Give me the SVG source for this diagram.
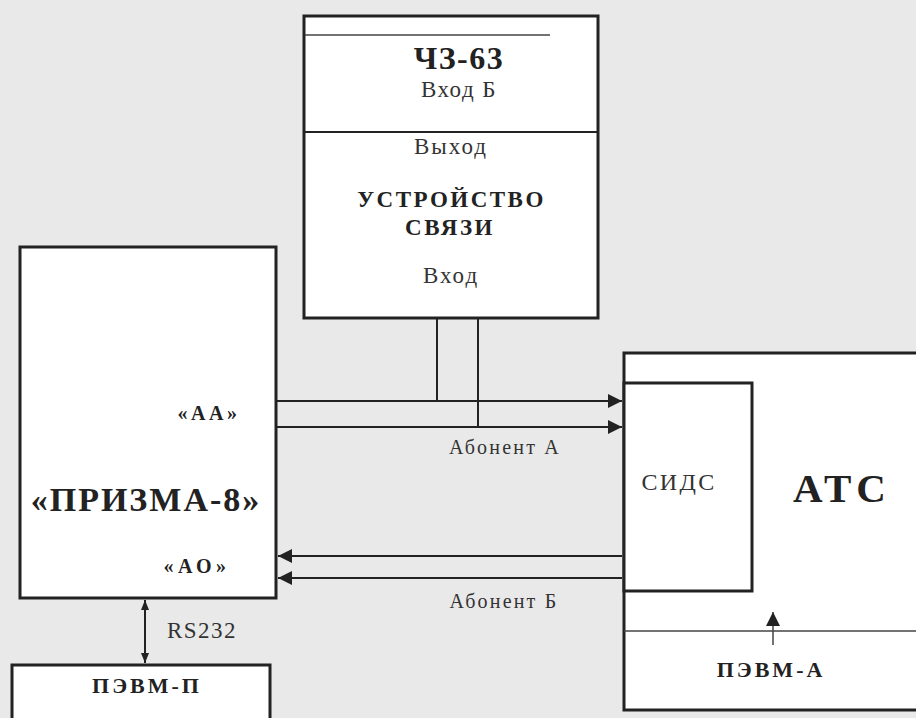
<svg xmlns="http://www.w3.org/2000/svg" width="916" height="718" viewBox="0 0 916 718">
<style>
.bg{fill:#e9e9e9}
.box{fill:#ffffff;stroke:#222;stroke-width:3}
.ln{stroke:#222;stroke-width:2;fill:none}
.thin{stroke:#444;stroke-width:1.5;fill:none}
text{font-family:"Liberation Serif","Times New Roman",serif;fill:#333;text-anchor:middle}
.b{font-weight:bold;fill:#222}
.s{font-size:23px;letter-spacing:2px}
</style>
<defs>
<marker id="ah" viewBox="0 0 10 10" refX="10" refY="5" markerWidth="11" markerHeight="10" markerUnits="userSpaceOnUse" orient="auto-start-reverse">
<path d="M0,1 L10,5 L0,9 z" fill="#222"/>
</marker>
<marker id="ahL" viewBox="0 0 10 10" refX="10" refY="5" markerWidth="17" markerHeight="14" markerUnits="userSpaceOnUse" orient="auto-start-reverse">
<path d="M0,0 L10,5 L0,10 z" fill="#222"/>
</marker>
<marker id="ahU" viewBox="0 0 10 10" refX="10" refY="5" markerWidth="14" markerHeight="20" markerUnits="userSpaceOnUse" orient="auto-start-reverse">
<path d="M0,0 L10,5 L0,10 z" fill="#222"/>
</marker>
</defs>
<rect class="bg" x="0" y="0" width="916" height="718"/>

<g id="ustroystvo">
<rect class="box" x="304" y="16" width="294" height="302"/>
<line class="thin" x1="305" y1="35" x2="550" y2="35" stroke="#777"/>
<line class="ln" x1="304" y1="132" x2="598" y2="132" stroke-width="3"/>
<text class="b" x="459" y="69" font-size="32" letter-spacing="1.5">ЧЗ-63</text>
<text x="459" y="97" font-size="23" letter-spacing="1.5">Вход Б</text>
<text class="s" x="451" y="154">Выход</text>
<text class="b" x="451.5" y="207" font-size="23" letter-spacing="2.5">УСТРОЙСТВО</text>
<text class="b" x="450" y="235" font-size="23" letter-spacing="2.5">СВЯЗИ</text>
<text class="s" x="451" y="283">Вход</text>
</g>

<g id="prizma">
<rect class="box" x="20" y="247" width="256" height="351"/>
<text class="b" x="209" y="420" font-size="20" letter-spacing="3.5">«АА»</text>
<text class="b" x="146" y="511" font-size="34" letter-spacing="2">«ПРИЗМА-8»</text>
<text class="b" x="197" y="573" font-size="20" letter-spacing="4.5">«АО»</text>
</g>

<g id="pevm-p">
<rect class="box" x="12" y="665" width="258" height="60"/>
<text class="b" x="147" y="693" font-size="22" letter-spacing="3">ПЭВМ-П</text>
</g>

<g id="ats">
<rect class="box" x="624" y="353" width="300" height="357"/>
<line class="thin" x1="624" y1="631" x2="916" y2="631"/>
<text class="b" x="842" y="502" font-size="41" letter-spacing="5" fill="#444">АТС</text>
<text class="b" x="771" y="677" font-size="22" letter-spacing="3">ПЭВМ-А</text>
</g>

<g id="sids">
<rect class="box" x="624" y="383" width="128" height="208"/>
<text x="679" y="490" font-size="24" letter-spacing="2.3">СИДС</text>
</g>

<g id="connectors">
<line class="ln" x1="437" y1="318" x2="437" y2="401"/>
<line class="ln" x1="478" y1="318" x2="478" y2="427"/>
<line class="ln" x1="277" y1="401" x2="622" y2="401" marker-end="url(#ahL)"/>
<line class="ln" x1="277" y1="427" x2="622" y2="427" marker-end="url(#ahL)"/>
<line class="ln" x1="622" y1="556" x2="278" y2="556" marker-end="url(#ahL)"/>
<line class="ln" x1="622" y1="578" x2="278" y2="578" marker-end="url(#ahL)"/>
<line class="ln" x1="145" y1="600" x2="145" y2="663" marker-start="url(#ah)" marker-end="url(#ah)"/>
<line class="thin" x1="773" y1="645" x2="773" y2="612" marker-end="url(#ahU)"/>
</g>

<g id="labels">
<text x="505" y="454" font-size="20" letter-spacing="2.2">Абонент А</text>
<text x="504" y="608" font-size="20" letter-spacing="2.2">Абонент Б</text>
<text x="202" y="638" font-size="23" letter-spacing="1.5">RS232</text>
</g>
</svg>
